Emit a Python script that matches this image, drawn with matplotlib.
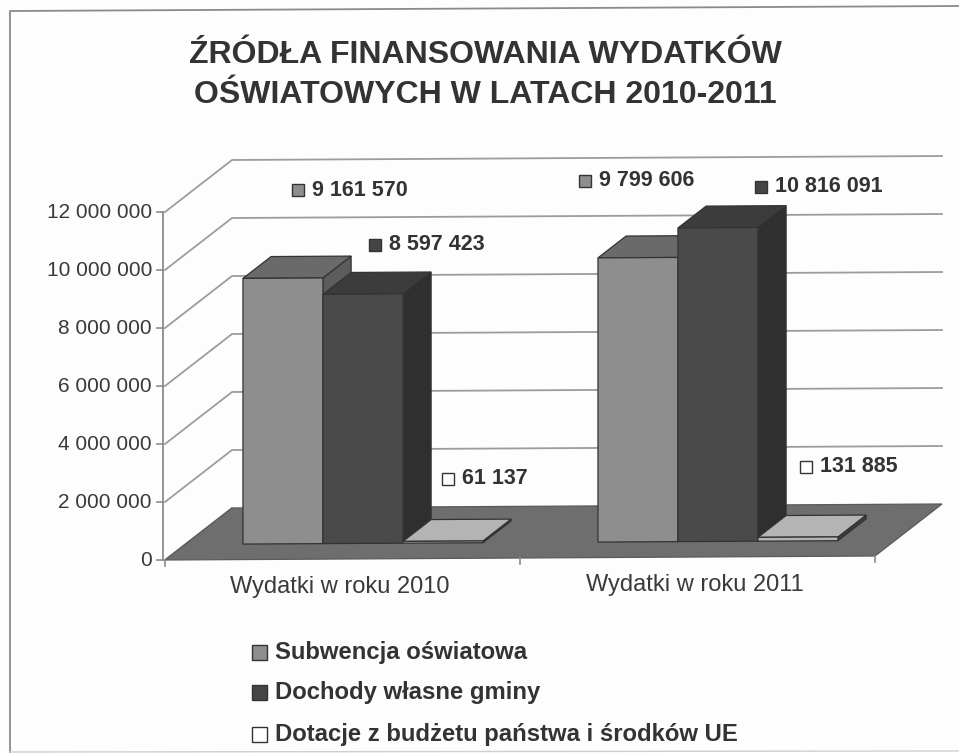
import matplotlib
matplotlib.use('Agg')
import matplotlib.pyplot as plt
from matplotlib.patches import Polygon, Rectangle

plt.rcParams['font.family'] = ['Liberation Sans', 'DejaVu Sans']

W, H = 959, 753

title_lines = ['ŹRÓDŁA FINANSOWANIA WYDATKÓW', 'OŚWIATOWYCH W LATACH 2010-2011']
years = ['Wydatki w roku 2010', 'Wydatki w roku 2011']
series = ['Subwencja oświatowa', 'Dochody własne gminy', 'Dotacje z budżetu państwa i środków UE']
subwencja = [9161570, 9799606]
dochody = [8597423, 10816091]
dotacje = [61137, 131885]
yticks = [0, 2000000, 4000000, 6000000, 8000000, 10000000, 12000000]

front = ['#8e8e8e', '#4a4a4a', '#b4b4b4']
top = ['#6a6a6a', '#3c3c3c', '#b4b4b4']
side = ['#5c5c5c', '#2f2f2f', '#3c3c3c']
keys = ['#8e8e8e', '#454545', '#ffffff']
# pixel position of each data label key, per year and series
label_pos = [[(298, 190), (375, 245), (448, 479)],
             [(585, 181), (761, 187), (806, 467)]]


def fmt(v):
    return f'{v:,}'.replace(',', ' ')


def fig_xy(x, y):
    return x / W, 1 - y / H


fig = plt.figure(figsize=(W / 100, H / 100), dpi=100, facecolor='#fdfdfd')
# plot area: front edge of the floor, 0 to 12 mln on the value axis
ax = fig.add_axes([165 / W, 1 - 560 / H, 710 / W, 348 / H])
ax.set_xlim(0, 2)
ax.set_ylim(0, 12000000)
ax.axis('off')

px_x = 2 / 710.0
px_y = 12000000 / 348.0
depth_x = 67 * px_x
depth_y = 52 * px_y
tilt = 2 * px_y  # scan is slightly rotated, value units per category


def pt(x, v, d=0.0):
    return (x + d * depth_x, v + d * depth_y + tilt * x)


def quad(pts, fc, ec='#333333', lw=0.9, z=3):
    ax.add_patch(Polygon(pts, closed=True, fc=fc, ec=ec, lw=lw, zorder=z, clip_on=False))


# floor
quad([pt(0, 0), pt(2, 0), pt(2, 0, 1), pt(0, 0, 1)], '#6e6e6e', ec='#5a5a5a', z=2)

# grid on the side and back walls
for v in yticks[1:]:
    ax.plot(*zip(pt(0, v), pt(0, v, 1), pt(2, v, 1)), color='#9c9c9c', lw=1.3, zorder=1, clip_on=False)
ax.plot(*zip(pt(0, 0), pt(0, 0, 1)), color='#9c9c9c', lw=1.3, zorder=1, clip_on=False)

# value axis
ax.plot(*zip(pt(-2 * px_x, 0), pt(-2 * px_x, 12000000)), color='#8c8c8c', lw=1.3, zorder=4, clip_on=False)
for v in yticks:
    ax.plot(*zip(pt(-8 * px_x, v), pt(-2 * px_x, v)), color='#8c8c8c', lw=1.2, zorder=4, clip_on=False)
    x, y = ax.transData.transform(pt(-13 * px_x, v))
    fig.text(x / W, y / H, fmt(v), ha='right', va='center', fontsize=15, color='#3a3a3a')

# category ticks
for c in [0, 1, 2]:
    ax.plot(*zip(pt(c, 0), pt(c, -6 * px_y)), color='#8c8c8c', lw=1.2, zorder=4, clip_on=False)

# 3d bars
bar_w = 80 * px_x
d0, d1 = 0.30, 0.72
for i, vals in enumerate(zip(subwencja, dochody, dotacje)):
    start = i + 0.163
    for j, v in enumerate(vals):
        x0 = start + j * bar_w
        x1 = x0 + bar_w
        z = 5 + j * 0.1
        quad([pt(x1, 0, d0), pt(x1, 0, d1), pt(x1, v, d1), pt(x1, v, d0)], side[j], z=z)
        quad([pt(x0, v, d0), pt(x1, v, d0), pt(x1, v, d1), pt(x0, v, d1)], top[j], z=z)
        quad([pt(x0, 0, d0), pt(x1, 0, d0), pt(x1, v, d0), pt(x0, v, d0)], front[j], z=z)
        lx, ly = label_pos[i][j]
        x_, y_ = fig_xy(lx, ly)
        fig.add_artist(Rectangle((x_ - 6 / W, y_ - 6 / H), 12 / W, 12 / H, transform=fig.transFigure,
                                 fc=keys[j], ec='#333333', lw=1.0))
        fig.text(x_ + 14 / W, y_, fmt(v), ha='left', va='center', fontsize=15.5, fontweight='bold', color='#333333')

# category labels
for (x, y), name in zip([(340, 587), (695, 585)], years):
    fig.text(*fig_xy(x, y), name, ha='center', va='center', fontsize=17, color='#3a3a3a')

# title
for (x, y), line in zip([(485, 55), (485, 95)], title_lines):
    fig.text(*fig_xy(x, y), line, ha='center', va='center', fontsize=23, fontweight='bold', color='#333333')

# legend
for y, name, k in zip([653, 693, 735], series, keys):
    x_, y_ = fig_xy(260, y)
    fig.add_artist(Rectangle((x_ - 8 / W, y_ - 7 / H), 15 / W, 15 / H, transform=fig.transFigure,
                             fc=k, ec='#333333', lw=1.0))
    fig.text(x_ + 15 / W, y_, name, ha='left', va='center', fontsize=17.2, fontweight='bold', color='#333333')

# frame of the scanned chart
fig.add_artist(plt.Line2D([10 / W, 10 / W, 1], [0, 1 - 11 / H, 1 - 6 / H],
                          transform=fig.transFigure, color='#8a8a8a', lw=1.3))
fig.add_artist(plt.Line2D([10 / W, 1], [1 - 752 / H, 1 - 751 / H],
                          transform=fig.transFigure, color='#cfcfcf', lw=1.0))

fig.savefig('out.png', dpi=100, facecolor=fig.get_facecolor())
